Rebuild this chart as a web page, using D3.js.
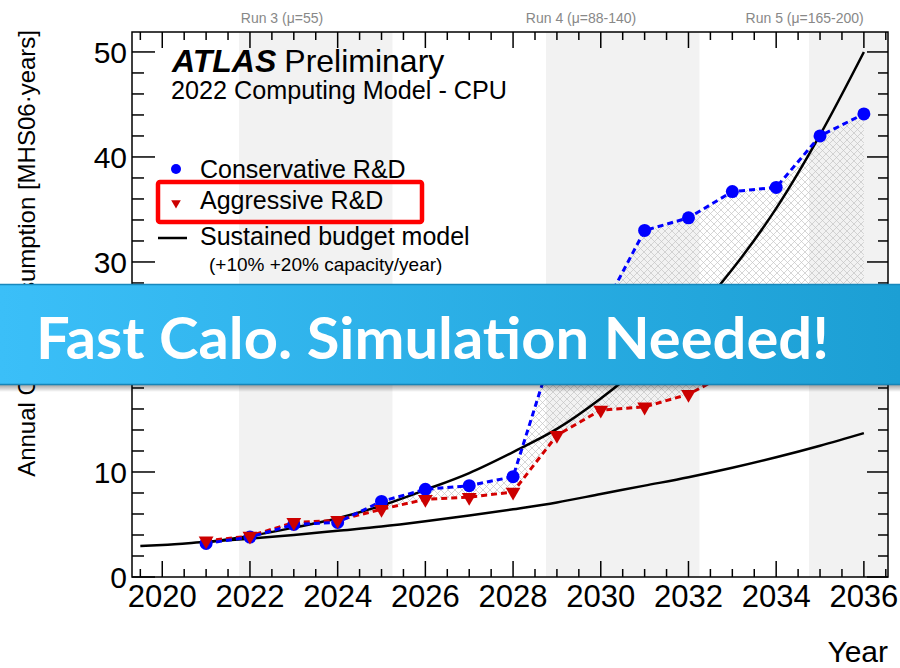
<!DOCTYPE html>
<html>
<head>
<meta charset="utf-8">
<script src="https://cdn.jsdelivr.net/npm/d3@7"></script>
<style>
  html, body { margin: 0; padding: 0; background: #fff; }
  svg { display: block; font-family: "Liberation Sans", Arial, sans-serif; }
</style>
</head>
<body>
<svg width="900" height="668"></svg>
<script>
;(function (d3) {
  // --- data ---
  var years = [2021, 2022, 2023, 2024, 2025, 2026, 2027, 2028,
    2029, 2030, 2031, 2032, 2033, 2034, 2035, 2036]
  var conservative = [3.2, 3.8, 5.0, 5.2, 7.2, 8.35, 8.7, 9.55,
    22.8, 25.1, 33.0, 34.2, 36.7, 37.1, 42.0, 44.1]
  var aggressive = [3.45, 3.9, 5.2, 5.4, 6.45, 7.4, 7.6, 8.1,
    13.5, 15.9, 16.2, 17.4, 19.6, 20.2, 22.5, 24.0]

  var flat10Years = [2019.5, 2020, 2021, 2022, 2023, 2024, 2025, 2026, 2027,
    2028, 2029, 2030, 2031, 2032, 2033, 2034, 2035, 2036]
  var flat10 = [2.95, 3.05, 3.35, 3.65, 4.0, 4.4, 4.8, 5.3, 5.85,
    6.45, 7.1, 7.9, 8.7, 9.5, 10.4, 11.4, 12.5, 13.7]
  var flat20Years = [2021, 2022, 2023, 2024, 2025, 2026, 2027, 2028,
    2029, 2030, 2031, 2032, 2033, 2034, 2035, 2036]
  var flat20 = [3.3, 3.9, 4.7, 5.6, 6.8, 8.3, 9.9, 11.9,
    14.1, 17.0, 20.4, 24.4, 29.3, 35.1, 42.1, 50.0]

  var runNames = ['Run 3 (\u03bc=55)', 'Run 4 (\u03bc=88-140)', 'Run 5 (\u03bc=165-200)']
  var runStart = [2021.75, 2028.75, 2034.75]
  var runEnd = [2025.25, 2032.25, 2036.55]
  var runLabelAt = [2022.73, 2029.55, 2034.65]

  var xTicks = d3.range(2020, 2037, 2)
  var xMinor = d3.range(2019.5, 2036.6, 0.5)
  var yTicks = [0, 10, 20, 30, 40, 50]
  var yMinor = d3.range(0, 51, 2)

  var svg = d3.select('svg')

  var left = 132
  var right = 888
  var top = 32
  var bottom = 577

  var x = d3.scaleLinear().domain([2019.31, 2036.55]).range([left, right])
  var y = d3.scaleLinear().domain([0, 51.9]).range([bottom, top])

  var defs = svg.append('defs')

  var hatch = defs.append('pattern')
        .attr('id', 'hatch')
        .attr('patternUnits', 'userSpaceOnUse')
        .attr('width', 7)
        .attr('height', 7)
  hatch.append('path')
        .attr('d', 'M0,0L7,7M7,0L0,7M-1,6L1,8M6,-1L8,1M-1,1L1,-1M6,8L8,6')
        .style('stroke', '#c4c4c4')
        .style('stroke-width', 0.7)
        .style('fill', 'none')

  var grad = defs.append('linearGradient')
        .attr('id', 'banner')
        .attr('x1', '0%').attr('x2', '100%')
        .attr('y1', '0%').attr('y2', '0%')
  grad.append('stop').attr('offset', '0%').attr('stop-color', '#3bbff8')
  grad.append('stop').attr('offset', '100%').attr('stop-color', '#1c9fd4')

  var shadow = defs.append('linearGradient')
        .attr('id', 'shadow')
        .attr('x1', '0%').attr('x2', '0%')
        .attr('y1', '0%').attr('y2', '100%')
  shadow.append('stop').attr('offset', '0%').attr('stop-color', 'rgba(0,0,0,0.35)')
  shadow.append('stop').attr('offset', '100%').attr('stop-color', 'rgba(0,0,0,0)')

  // run bands
  svg.selectAll('rect.band')
        .data(runStart)
        .enter()
        .append('rect')
        .attr('class', 'band')
        .attr('x', function (d) { return x(d) })
        .attr('y', top)
        .attr('width', function (d, i) { return Math.min(x(runEnd[i]), right) - x(d) })
        .attr('height', bottom - top)
        .style('fill', '#f2f2f2')

  svg.selectAll('text.run')
        .data(runNames)
        .enter()
        .append('text')
        .attr('class', 'run')
        .attr('x', function (d, i) { return x(runLabelAt[i]) })
        .attr('y', 23)
        .attr('text-anchor', 'middle')
        .style('font-size', '14px')
        .style('fill', '#888')
        .text(function (d) { return d })

  // hatched region between the two R&D scenarios
  var pts = years.map(function (d, i) {
    return {x: d, lo: aggressive[i], hi: conservative[i]}
  })
  svg.append('path')
        .datum(pts)
        .attr('d', d3.area()
          .x(function (d) { return x(d.x) })
          .y0(function (d) { return y(d.lo) })
          .y1(function (d) { return y(d.hi) }))
        .style('fill', 'url(#hatch)')

  // sustained budget curves
  var curve = d3.line()
        .x(function (d) { return x(d[0]) })
        .y(function (d) { return y(d[1]) })
        .curve(d3.curveMonotoneX)

  svg.selectAll('path.budget')
        .data([d3.zip(flat10Years, flat10), d3.zip(flat20Years, flat20)])
        .enter()
        .append('path')
        .attr('class', 'budget')
        .attr('d', curve)
        .style('fill', 'none')
        .style('stroke', '#000')
        .style('stroke-width', 2.5)

  // scenario lines
  var straight = d3.line()
        .x(function (d) { return x(d[0]) })
        .y(function (d) { return y(d[1]) })

  var series = [
    {vals: aggressive, color: '#d40000'},
    {vals: conservative, color: '#0000ff'}
  ]

  series.forEach(function (s) {
    svg.append('path')
          .datum(d3.zip(years, s.vals))
          .attr('d', straight)
          .style('fill', 'none')
          .style('stroke', s.color)
          .style('stroke-width', 3)
          .style('stroke-dasharray', '6,4')
  })

  svg.selectAll('circle.cons')
        .data(conservative)
        .enter()
        .append('circle')
        .attr('class', 'cons')
        .attr('cx', function (d, i) { return x(years[i]) })
        .attr('cy', function (d) { return y(d) })
        .attr('r', 6.5)
        .style('fill', '#0000ff')

  var tri = d3.symbol().type(d3.symbolTriangle).size(95)
  svg.selectAll('path.aggr')
        .data(aggressive)
        .enter()
        .append('path')
        .attr('class', 'aggr')
        .attr('d', tri)
        .attr('transform', function (d, i) {
          return 'translate(' + x(years[i]) + ',' + y(d) + ') rotate(180)'
        })
        .style('fill', '#cc0000')

  // frame and ticks
  svg.append('rect')
        .attr('x', left).attr('y', top)
        .attr('width', right - left).attr('height', bottom - top)
        .style('fill', 'none')
        .style('stroke', '#000')
        .style('stroke-width', 1.5)

  var tickStyle = function (sel) {
    sel.style('stroke', '#000').style('stroke-width', 1.5)
  }

  svg.selectAll('line.xt')
        .data(xMinor)
        .enter()
        .append('line')
        .attr('x1', function (d) { return x(d) })
        .attr('x2', function (d) { return x(d) })
        .attr('y1', bottom)
        .attr('y2', function (d) { return bottom - (d % 2 === 0 ? 16 : 8) })
        .call(tickStyle)

  svg.selectAll('line.xtt')
        .data(xMinor)
        .enter()
        .append('line')
        .attr('x1', function (d) { return x(d) })
        .attr('x2', function (d) { return x(d) })
        .attr('y1', top)
        .attr('y2', function (d) { return top + (d % 2 === 0 ? 16 : 8) })
        .call(tickStyle)

  svg.selectAll('line.yt')
        .data(yMinor)
        .enter()
        .append('line')
        .attr('x1', left)
        .attr('x2', function (d) { return left + (d % 10 === 0 ? 23 : 12) })
        .attr('y1', function (d) { return y(d) })
        .attr('y2', function (d) { return y(d) })
        .call(tickStyle)

  svg.selectAll('line.ytr')
        .data(yMinor)
        .enter()
        .append('line')
        .attr('x1', right)
        .attr('x2', function (d) { return right - (d % 10 === 0 ? 21 : 10) })
        .attr('y1', function (d) { return y(d) })
        .attr('y2', function (d) { return y(d) })
        .call(tickStyle)

  svg.selectAll('text.xl')
        .data(xTicks)
        .enter()
        .append('text')
        .attr('x', function (d) { return x(d) })
        .attr('y', 607)
        .attr('text-anchor', 'middle')
        .style('font-size', '31px')
        .text(function (d) { return d })

  svg.selectAll('text.yl')
        .data(yTicks)
        .enter()
        .append('text')
        .attr('x', 127)
        .attr('y', function (d) { return y(d) + 11 })
        .attr('text-anchor', 'end')
        .style('font-size', '30px')
        .text(function (d) { return d })

  svg.append('text')
        .attr('x', right)
        .attr('y', 662)
        .attr('text-anchor', 'end')
        .style('font-size', '30px')
        .text('Year')

  svg.append('text')
        .attr('transform', 'translate(35,30) rotate(-90)')
        .attr('text-anchor', 'end')
        .style('font-size', '24px')
        .text('Annual CPU Consumption  [MHS06\u00b7years]')

  // labels and legend
  var atlas = svg.append('text')
        .attr('x', 172)
        .attr('y', 72)
        .style('font-size', '32px')
  atlas.append('tspan')
        .style('font-weight', 'bold')
        .style('font-style', 'italic')
        .text('ATLAS')
  atlas.append('tspan')
        .attr('dx', 8)
        .text('Preliminary')

  svg.append('text')
        .attr('x', 171)
        .attr('y', 99)
        .style('font-size', '25.2px')
        .text('2022 Computing Model - CPU')

  var legend = svg.append('g').style('font-size', '25px')
  legend.append('circle')
        .attr('cx', 176).attr('cy', 169).attr('r', 5)
        .style('fill', '#0000ff')
  legend.append('text').attr('x', 200).attr('y', 178).text('Conservative R&D')
  legend.append('path')
        .attr('d', d3.symbol().type(d3.symbolTriangle).size(40))
        .attr('transform', 'translate(176,203) rotate(180)')
        .style('fill', '#cc0000')
  legend.append('text').attr('x', 200).attr('y', 209).text('Aggressive R&D')
  legend.append('line')
        .attr('x1', 158).attr('x2', 187)
        .attr('y1', 238).attr('y2', 238)
        .style('stroke', '#000')
        .style('stroke-width', 2.5)
  legend.append('text').attr('x', 200).attr('y', 245).text('Sustained budget model')
  legend.append('text')
        .attr('x', 209).attr('y', 271)
        .style('font-size', '19px')
        .text('(+10% +20% capacity/year)')

  svg.append('rect')
        .attr('x', 158).attr('y', 182)
        .attr('width', 264).attr('height', 40)
        .attr('rx', 2)
        .style('fill', 'none')
        .style('stroke', '#ff0000')
        .style('stroke-width', 4.5)

  // banner
  svg.append('rect')
        .attr('x', 0).attr('y', 385)
        .attr('width', 900).attr('height', 7)
        .style('fill', 'url(#shadow)')
  svg.append('rect')
        .attr('x', 0).attr('y', 284)
        .attr('width', 900).attr('height', 101)
        .style('fill', 'url(#banner)')
  svg.append('line')
        .attr('x1', 0).attr('x2', 900)
        .attr('y1', 284.5).attr('y2', 284.5)
        .style('stroke', '#1888bd')
        .style('stroke-width', 1.5)
  svg.append('line')
        .attr('x1', 0).attr('x2', 900)
        .attr('y1', 384.5).attr('y2', 384.5)
        .style('stroke', '#1685b8')
        .style('stroke-width', 1.5)
  svg.append('text')
        .attr('x', 36)
        .attr('y', 359)
        .attr('textLength', 793)
        .attr('lengthAdjust', 'spacingAndGlyphs')
        .style('font-family', 'Lato, "Open Sans", sans-serif')
        .style('font-weight', 'bold')
        .style('font-size', '57px')
        .style('fill', '#fff')
        .text('Fast Calo. Simulation Needed!')
})(window.d3)
</script>
</body>
</html>
